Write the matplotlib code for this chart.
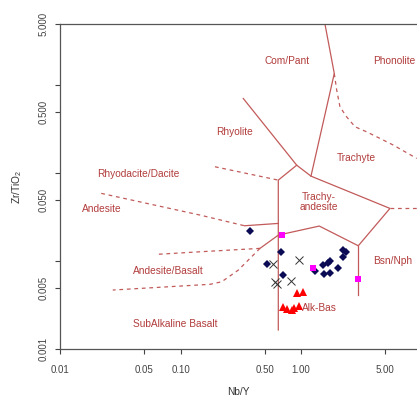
import matplotlib
matplotlib.use("Agg")
import matplotlib.pyplot as plt

plt.rcParams['font.family'] = ['Liberation Sans', 'DejaVu Sans']
plt.rcParams['mathtext.default'] = 'regular'

# sample groups (Nb/Y, Zr/TiO2)
diamond_x = [0.378, 0.680, 0.526, 0.714, 1.310, 1.535, 1.565, 1.690, 1.746, 1.746, 2.022, 2.226, 2.252, 2.371]
diamond_y = [0.0221, 0.01266, 0.00932, 0.00699, 0.00782, 0.00908, 0.00717, 0.00949, 0.01016, 0.00742, 0.00833, 0.0111, 0.01344, 0.01285]

square_x = [0.6925, 1.254, 3.0]
square_y = [0.0199, 0.00833, 0.00629]

cross_x = [0.583, 0.964, 0.8225, 0.609, 0.627]
cross_y = [0.00925, 0.01035, 0.00602, 0.0059, 0.00552]

tri_x = [0.923, 1.047, 0.714, 0.771, 0.848, 0.881, 0.970]
tri_y = [0.00433, 0.00451, 0.00305, 0.00287, 0.0028, 0.00292, 0.0031]

# field boundaries, solid
solid_lines = [
    ([1.585, 1.895, 1.213], [5.0, 1.368, 0.0931]),
    ([0.332, 0.923, 1.213, 5.5, 3.0, 1.422, 0.65, 0.457],
     [0.711, 0.124, 0.0931, 0.040, 0.01504, 0.0252, 0.0199, 0.01405]),
    ([0.923, 0.649, 0.649], [0.124, 0.0839, 0.00166]),
    ([3.0, 3.0], [0.01504, 0.00414]),
    ([0.34, 0.649], [0.0254, 0.027]),
]

# field boundaries, dashed
dashed_lines = [
    ([1.895, 1.985, 2.113, 2.40, 2.82, 3.52, 4.544, 5.86, 9.18],
     [1.368, 0.884, 0.571, 0.440, 0.339, 0.297, 0.250, 0.210, 0.148]),
    ([0.193, 0.649], [0.119, 0.0839]),
    ([5.5, 9.3], [0.040, 0.040]),
    ([0.0219, 0.145, 0.34], [0.0593, 0.0336, 0.0254]),
    ([0.457, 0.145, 0.0625], [0.01405, 0.01285, 0.0120]),
    ([0.457, 0.302, 0.2197, 0.1755, 0.0273], [0.01405, 0.00796, 0.00586, 0.00548, 0.00472]),
]

field_names = ["Com/Pant", "Phonolite", "Rhyolite", "Trachyte", "Trachy-\nandesite",
               "Rhyodacite/Dacite", "Andesite", "Andesite/Basalt", "SubAlkaline Basalt",
               "Bsn/Nph", "Alk-Bas"]
field_x = [0.766, 5.94, 0.283, 2.90, 1.413, 0.0447, 0.0222, 0.0402, 0.0402, 5.77, 1.021]
field_y = [1.89, 1.89, 0.295, 0.149, 0.0476, 0.0982, 0.039, 0.00776, 0.00195, 0.01016, 0.00292]
field_ha = ['center', 'center', 'center', 'center', 'center', 'center', 'center', 'left', 'left', 'center', 'left']

xticks = [0.01, 0.05, 0.1, 0.5, 1, 5]
xtick_labels = ["0.01", "0.05", "0.10", "0.50", "1.00", "5.00"]
yticks = [0.001, 0.005, 0.01, 0.05, 0.1, 0.5, 1, 5]
ytick_labels = ["0.001", "0.005", "", "0.050", "", "0.500", "", "5.000"]

W, H = 417, 398
fig = plt.figure(figsize=(W / 100, H / 100), dpi=100)
ax = fig.add_axes([60.3 / W, 1 - 349.3 / H, (W - 60.3) / W, (349.3 - 24) / H])
ax.set_xscale('log')
ax.set_yscale('log')
ax.set_xlim(0.01, 9.23)
ax.set_ylim(0.001, 4.97)

line_col = '#c25a5a'
text_col = '#b23c3c'
for xs, ys in solid_lines:
    ax.plot(xs, ys, color=line_col, lw=0.9)
for xs, ys in dashed_lines:
    ax.plot(xs, ys, color=line_col, lw=0.9, linestyle=(0, (3, 3)))

for name, x, y, ha in zip(field_names, field_x, field_y, field_ha):
    ax.text(x, y, name, color=text_col, fontsize=7.3, ha=ha, va='center',
            linespacing=1.0)

ax.plot(diamond_x, diamond_y, 'D', color='#0a0a55', ms=3.6, mew=0, ls='none')
ax.plot(cross_x, cross_y, 'x', color='#333333', ms=6, mew=0.7, ls='none')
ax.plot(square_x, square_y, 's', color='#ff00ff', ms=5, mew=0, ls='none')
ax.plot(tri_x, tri_y, '^', color='#ff0000', ms=6, mew=0, ls='none')

ax.set_xticks(xticks)
ax.set_xticklabels(xtick_labels)
ax.set_yticks(yticks)
ax.set_yticklabels(ytick_labels, rotation=90, va='center')
ax.minorticks_off()
ax.tick_params(axis='x', length=3.6, width=0.8, pad=8, labelsize=7, colors='#444444')
ax.tick_params(axis='y', length=3.6, width=0.8, pad=5, labelsize=7, colors='#444444')

for side in ['left', 'bottom', 'top']:
    ax.spines[side].set_color('#555555')
    ax.spines[side].set_linewidth(0.9)
ax.spines['right'].set_visible(False)

fig.text(17 / W, 1 - 186.6 / H, 'Zr/TiO$_2$', rotation=90, ha='center', va='center',
         fontsize=7.3, color='#333333')
fig.text(238.5 / W, 1 - 392 / H, 'Nb/Y', ha='center', va='center',
         fontsize=7.3, color='#333333')

fig.savefig('out.png', dpi=100)
